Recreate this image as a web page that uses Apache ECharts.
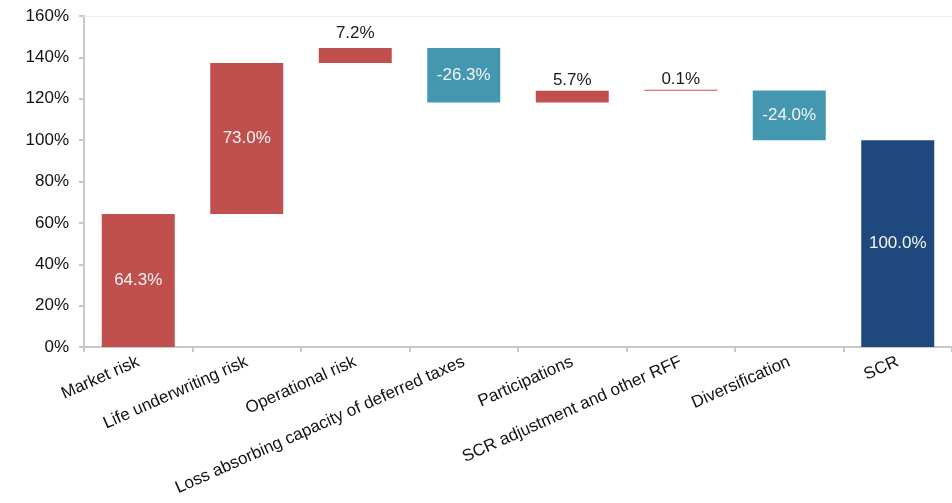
<!DOCTYPE html>
<html>
<head>
<meta charset="utf-8">
<script src="https://cdn.jsdelivr.net/npm/echarts@6/dist/echarts.min.js"></script>
<style>
  html, body { margin: 0; padding: 0; background: #ffffff; }
  #chart { width: 952px; height: 503px; }
</style>
</head>
<body>
<div id="chart"></div>
<script>
// SCR breakdown as a waterfall: each risk module adds to or reduces the running total.
const categories = [
  'Market risk',
  'Life underwriting risk',
  'Operational risk',
  'Loss absorbing capacity of deferred taxes',
  'Participations',
  'SCR adjustment and other RFF',
  'Diversification',
  'SCR'
];
const values = [64.3, 73.0, 7.2, -26.3, 5.7, 0.1, -24.0, 100.0];
const isTotal = [false, false, false, false, false, false, false, true];
const yTicks = { min: 0, max: 160, step: 20 };

const RED = '#C0504D';
const TEAL = '#4398B0';
const NAVY = '#1F497D';
const FONT = '"Liberation Sans", Arial, sans-serif';

// Running totals: a transparent base bar plus a visible delta bar per category.
const baseData = [];
const deltaData = [];
let running = 0;
values.forEach((v, i) => {
  let base, color;
  if (isTotal[i]) {
    base = 0;
    color = NAVY;
    running = v;
  } else {
    base = v >= 0 ? running : running + v;
    color = v >= 0 ? RED : TEAL;
    running += v;
  }
  const inside = Math.abs(v) >= 15;
  baseData.push(base);
  deltaData.push({
    value: Math.abs(v),
    itemStyle: { color: color },
    label: {
      position: inside ? 'inside' : 'top',
      color: inside ? '#f4f4f4' : '#1a1a1a',
      distance: (i === 2) ? 6 : 2
    }
  });
});

const chart = echarts.init(document.getElementById('chart'), null, { renderer: 'canvas' });
chart.setOption({
  animation: false,
  backgroundColor: '#ffffff',
  grid: { left: 84, top: 16, width: 875, height: 331, containLabel: false },
  xAxis: [{
    type: 'category',
    data: categories,
    position: 'bottom',
    axisLine: { show: true, lineStyle: { color: '#c8c8c8', width: 2 } },
    axisTick: { show: true, length: 5, lineStyle: { color: '#c8c8c8', width: 2 } },
    axisLabel: {
      interval: 0,
      rotate: 24,
      margin: 14,
      color: '#111111',
      fontSize: 17,
      fontFamily: FONT
    },
    splitLine: { show: false }
  }, {
    type: 'category',
    data: categories,
    position: 'top',
    axisLine: { show: true, lineStyle: { color: '#f0f0f0', width: 1 } },
    axisTick: { show: false },
    axisLabel: { show: false }
  }],
  yAxis: {
    type: 'value',
    min: yTicks.min,
    max: yTicks.max,
    interval: yTicks.step,
    axisLine: { show: true, lineStyle: { color: '#c8c8c8', width: 2 } },
    axisTick: { show: true, length: 5, lineStyle: { color: '#c8c8c8', width: 2 } },
    axisLabel: {
      formatter: '{value}%',
      margin: 15,
      color: '#111111',
      fontSize: 17,
      fontFamily: FONT
    },
    splitLine: { show: false }
  },
  series: [{
    name: 'base',
    type: 'bar',
    stack: 'wf',
    silent: true,
    barWidth: 73,
    itemStyle: { color: 'transparent' },
    data: baseData
  }, {
    name: 'delta',
    type: 'bar',
    stack: 'wf',
    barWidth: 73,
    barMinHeight: 1,
    label: {
      show: true,
      fontSize: 17,
      fontFamily: FONT,
      formatter: (p) => values[p.dataIndex].toFixed(1) + '%'
    },
    data: deltaData
  }]
});
</script>
</body>
</html>
